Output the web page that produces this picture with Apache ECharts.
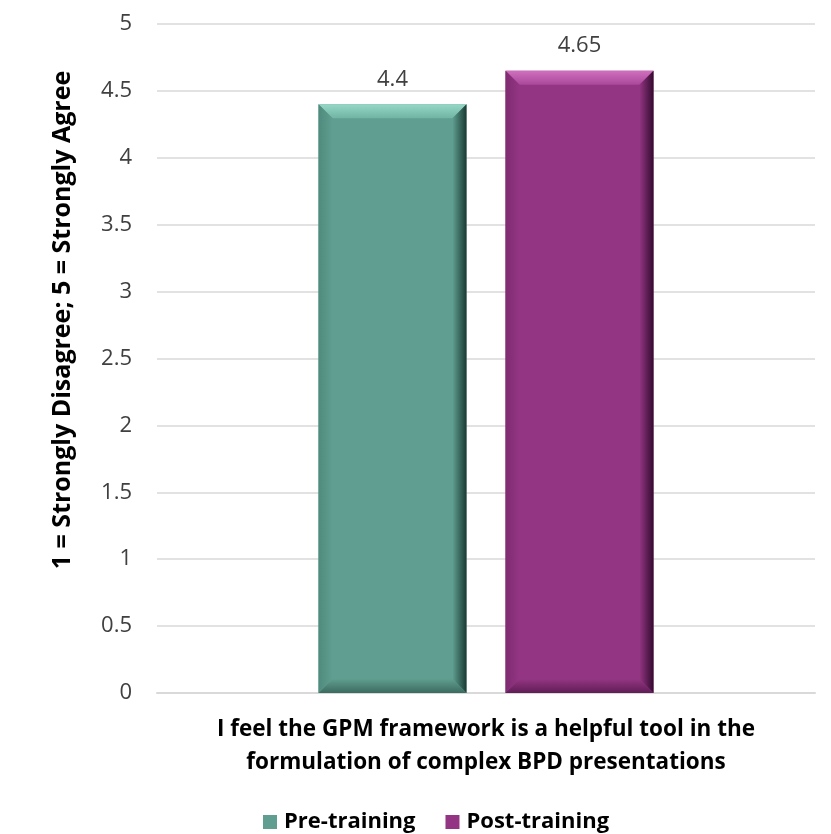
<!DOCTYPE html>
<html><head><meta charset="utf-8">
<script src="https://cdn.jsdelivr.net/npm/echarts@6/dist/echarts.min.js"></script>
<style>html,body{margin:0;padding:0;background:#fff}#c{width:831px;height:834px}</style>
</head><body><div id="c"></div>
<script>
const categories = ['I feel the GPM framework is a helpful tool in the\nformulation of complex BPD presentations'];
const seriesNames = ['Pre-training', 'Post-training'];
const preValues = [4.4];
const postValues = [4.65];
const yTicks = [0, 0.5, 1, 1.5, 2, 2.5, 3, 3.5, 4, 4.5, 5];

const BW = 148, GAP = 39, BEV = 14;
const FONT = '"Open Sans", sans-serif';
const palette = [
  {base:'#5f9e90', top:'#96d8c8', topDark:'#70b4a4', right:'#1a3a33', bottom:'#3c6a5f', left:'#4f8a7d'},
  {base:'#933583', top:'#cf70be', topDark:'#aa479a', right:'#330b2e', bottom:'#601d55', left:'#7f2b71'}
];

function bevel(params, api) {
  const s = params.seriesIndex - 2;
  const cat = api.value(0), v = api.value(1);
  const ptTop = api.coord([cat, v]);
  const ptBot = api.coord([cat, 0]);
  const groupW = BW * 2 + GAP;
  const x0 = ptTop[0] - groupW / 2 + s * (BW + GAP);
  const x1 = x0 + BW, t = ptTop[1], b = ptBot[1], k = BEV;
  const p = palette[s];
  return {
    type: 'group',
    children: [
      {type:'polygon', shape:{points:[[x0,t],[x1,t],[x1-k,t+k],[x0+k,t+k]]},
       style:{fill:new echarts.graphic.LinearGradient(0,0,0,1,[{offset:0,color:p.top},{offset:1,color:p.topDark}])}},
      {type:'polygon', shape:{points:[[x1,t],[x1,b],[x1-k,b-k],[x1-k,t+k]]},
       style:{fill:new echarts.graphic.LinearGradient(0,0,1,0,[{offset:0,color:p.base},{offset:1,color:p.right}])}},
      {type:'polygon', shape:{points:[[x0,b],[x1,b],[x1-k,b-k],[x0+k,b-k]]},
       style:{fill:new echarts.graphic.LinearGradient(0,0,0,1,[{offset:0,color:p.base},{offset:1,color:p.bottom}])}},
      {type:'polygon', shape:{points:[[x0,t],[x0+k,t+k],[x0+k,b-k],[x0,b]]},
       style:{fill:new echarts.graphic.LinearGradient(0,0,1,0,[{offset:0,color:p.left},{offset:1,color:p.base}])}}
    ]
  };
}

const chart = echarts.init(document.getElementById('c'), null, {renderer:'canvas'});
const labelStyle = {show:true, position:'top', distance:14, color:'#404040', fontSize:22, fontFamily:FONT};
chart.setOption({
  animation:false,
  backgroundColor:'#fff',
  grid:{left:157, right:16, top:24, bottom:141, containLabel:false},
  legend:{
    data:seriesNames, top:806, left:258, itemWidth:14, itemHeight:14, itemGap:30, icon:'rect',
    textStyle:{fontFamily:FONT, fontWeight:'bold', fontSize:22, color:'#000', padding:[0,0,0,2]}
  },
  graphic:[{
    type:'text', x:63, y:320, rotation:Math.PI/2,
    style:{text:'1 = Strongly Disagree; 5 = Strongly Agree', font:'bold 25px "Open Sans", sans-serif', fill:'#000', align:'center', verticalAlign:'middle'}
  }],
  xAxis:{
    type:'category', data:categories,
    axisLine:{lineStyle:{color:'#d9d9d9', width:2}}, axisTick:{show:false},
    axisLabel:{color:'#000', fontFamily:FONT, fontWeight:'bold', fontSize:22.5, lineHeight:33, margin:20}
  },
  yAxis:{
    type:'value', min:0, max:5, interval:0.5,
    axisLine:{show:false}, axisTick:{show:false},
    splitLine:{lineStyle:{color:'#d9d9d9', width:1.5}},
    axisLabel:{color:'#404040', fontFamily:FONT, fontSize:22, margin:25}
  },
  series:[
    {name:seriesNames[0], type:'bar', data:preValues, barWidth:BW, barGap:(GAP/BW*100)+'%',
     itemStyle:{color:palette[0].base}, label:labelStyle},
    {name:seriesNames[1], type:'bar', data:postValues, barWidth:BW, barGap:(GAP/BW*100)+'%',
     itemStyle:{color:palette[1].base}, label:labelStyle},
    {type:'custom', renderItem:bevel, data:preValues.map((v,i)=>[i,v]), encode:{x:0,y:1}, z:5, silent:true},
    {type:'custom', renderItem:bevel, data:postValues.map((v,i)=>[i,v]), encode:{x:0,y:1}, z:5, silent:true}
  ]
});
</script></body></html>
